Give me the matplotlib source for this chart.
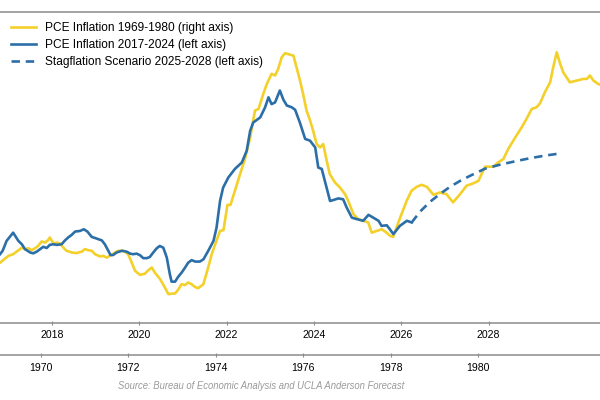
import matplotlib
matplotlib.use('Agg')
import matplotlib.pyplot as plt

plt.rcParams['font.family'] = ['Liberation Sans', 'DejaVu Sans']

# PCE inflation 2017-2024 (left axis, %), plotted against the top year axis
anni_recenti = [2016.81, 2016.87, 2016.96, 2017.11, 2017.23, 2017.31, 2017.38, 2017.50, 2017.57, 2017.65,
                2017.73, 2017.80, 2017.88, 2017.95, 2018.03, 2018.11, 2018.22, 2018.30, 2018.37, 2018.45,
                2018.53, 2018.64, 2018.73, 2018.81, 2018.91, 2018.99, 2019.06, 2019.14, 2019.21, 2019.29,
                2019.34, 2019.40, 2019.48, 2019.60, 2019.71, 2019.79, 2019.86, 2019.94, 2020.02, 2020.09,
                2020.17, 2020.24, 2020.32, 2020.40, 2020.47, 2020.55, 2020.63, 2020.70, 2020.74, 2020.82,
                2020.89, 2020.97, 2021.05, 2021.12, 2021.20, 2021.28, 2021.39, 2021.47, 2021.58, 2021.70,
                2021.77, 2021.85, 2021.92, 2022.04, 2022.19, 2022.35, 2022.46, 2022.54, 2022.61, 2022.77,
                2022.88, 2022.96, 2023.03, 2023.11, 2023.22, 2023.30, 2023.38, 2023.49, 2023.57, 2023.68,
                2023.80, 2023.91, 2024.03, 2024.10, 2024.18, 2024.25, 2024.37, 2024.44, 2024.56, 2024.67,
                2024.75, 2024.87, 2024.98, 2025.13, 2025.25, 2025.36, 2025.48, 2025.55, 2025.67, 2025.74,
                2025.82, 2025.97, 2026.13, 2026.24]
pce_recente = [1.43, 1.55, 1.90, 2.19, 1.90, 1.78, 1.61, 1.49, 1.46, 1.52,
               1.61, 1.69, 1.65, 1.76, 1.78, 1.76, 1.78, 1.92, 2.02, 2.11,
               2.23, 2.25, 2.31, 2.23, 2.04, 2.00, 1.96, 1.92, 1.78, 1.55,
               1.40, 1.40, 1.49, 1.55, 1.52, 1.45, 1.43, 1.45, 1.39, 1.29,
               1.29, 1.33, 1.49, 1.64, 1.72, 1.66, 1.31, 0.72, 0.46, 0.46,
               0.63, 0.78, 0.96, 1.13, 1.22, 1.17, 1.17, 1.25, 1.55, 1.90,
               2.37, 3.31, 3.78, 4.14, 4.44, 4.67, 5.08, 5.79, 6.08, 6.26,
               6.61, 6.97, 6.73, 6.79, 7.21, 6.89, 6.68, 6.62, 6.53, 6.07,
               5.50, 5.44, 5.20, 4.49, 4.44, 4.02, 3.31, 3.34, 3.40, 3.37,
               3.08, 2.72, 2.67, 2.61, 2.82, 2.72, 2.61, 2.43, 2.45, 2.31,
               2.14, 2.43, 2.61, 2.55]

# scenario di stagflazione 2025-2028 (left axis)
anni_scenario = [2026.24, 2026.43, 2026.66, 2026.89, 2027.12, 2027.35, 2027.58, 2027.92,
                 2028.26, 2028.61, 2028.95, 2029.29, 2029.56]
pce_scenario = [2.55, 2.93, 3.28, 3.56, 3.81, 4.02, 4.20, 4.45,
                4.59, 4.71, 4.82, 4.91, 4.97]

# PCE inflation 1969-1980 (right axis, %), plotted against the bottom year axis
anni_storici = [1969.07, 1969.14, 1969.26, 1969.37, 1969.49, 1969.57, 1969.64, 1969.72, 1969.79, 1969.87,
                1969.94, 1970.02, 1970.10, 1970.17, 1970.21, 1970.29, 1970.37, 1970.44, 1970.52, 1970.59,
                1970.71, 1970.82, 1970.94, 1971.01, 1971.09, 1971.17, 1971.24, 1971.36, 1971.43, 1971.51,
                1971.62, 1971.70, 1971.77, 1971.89, 1972.00, 1972.08, 1972.16, 1972.27, 1972.38, 1972.46,
                1972.54, 1972.61, 1972.73, 1972.84, 1972.92, 1973.00, 1973.07, 1973.15, 1973.22, 1973.30,
                1973.37, 1973.45, 1973.53, 1973.60, 1973.72, 1973.83, 1973.91, 1974.02, 1974.10, 1974.18,
                1974.27, 1974.34, 1974.44, 1974.56, 1974.67, 1974.79, 1974.90, 1974.98, 1975.09, 1975.17,
                1975.28, 1975.36, 1975.43, 1975.51, 1975.59, 1975.70, 1975.78, 1975.85, 1975.93, 1976.00,
                1976.08, 1976.16, 1976.23, 1976.31, 1976.39, 1976.46, 1976.54, 1976.61, 1976.73, 1976.84,
                1976.96, 1977.03, 1977.15, 1977.26, 1977.38, 1977.49, 1977.57, 1977.68, 1977.80, 1977.91,
                1977.99, 1978.06, 1978.22, 1978.37, 1978.48, 1978.60, 1978.71, 1978.83, 1978.98, 1979.13,
                1979.28, 1979.43, 1979.59, 1979.74, 1979.89, 1980.01, 1980.16, 1980.35, 1980.46, 1980.58,
                1980.69, 1980.85, 1981.00, 1981.11, 1981.23, 1981.34, 1981.42, 1981.53, 1981.65, 1981.72,
                1981.80, 1981.88, 1981.95, 1982.10, 1982.26, 1982.41, 1982.49, 1982.56, 1982.64, 1982.75,
                1982.86]
pce_storico = [4.13, 4.22, 4.37, 4.43, 4.57, 4.66, 4.61, 4.64, 4.57, 4.64,
               4.72, 4.88, 4.84, 4.93, 5.02, 4.81, 4.84, 4.81, 4.66, 4.55,
               4.49, 4.47, 4.52, 4.61, 4.57, 4.55, 4.43, 4.35, 4.37, 4.31,
               4.41, 4.49, 4.55, 4.55, 4.43, 4.13, 3.84, 3.70, 3.74, 3.86,
               3.96, 3.78, 3.55, 3.25, 3.02, 3.04, 3.04, 3.19, 3.37, 3.34,
               3.43, 3.37, 3.27, 3.23, 3.37, 3.96, 4.43, 4.90, 5.25, 5.28,
               6.17, 6.17, 6.67, 7.26, 7.79, 8.55, 9.50, 9.56, 10.09, 10.44,
               10.80, 10.74, 10.97, 11.38, 11.53, 11.48, 11.44, 11.03, 10.56, 10.09,
               9.50, 9.15, 8.79, 8.32, 8.20, 8.32, 7.73, 7.26, 6.96, 6.79,
               6.55, 6.32, 5.85, 5.67, 5.61, 5.55, 5.19, 5.25, 5.31, 5.19,
               5.08, 5.04, 5.72, 6.32, 6.67, 6.81, 6.88, 6.81, 6.53, 6.61,
               6.55, 6.26, 6.55, 6.85, 6.93, 7.02, 7.52, 7.52, 7.67, 7.79,
               8.14, 8.55, 8.91, 9.21, 9.56, 9.62, 9.76, 10.15, 10.50, 11.03,
               11.56, 11.15, 10.85, 10.50, 10.56, 10.62, 10.62, 10.74, 10.56, 10.44,
               10.38]

tick_recenti = [2018, 2020, 2022, 2024, 2026, 2028]
tick_storici = [1970, 1972, 1974, 1976, 1978, 1980]

BLU = '#2C6FA8'
GIALLO = '#F4D02A'
GRIGIO = '#8C8C8C'

fig = plt.figure(figsize=(6, 4), dpi=100)
rect = [0, 0.1925, 1, 0.7787]

# asse per la serie storica (asse destro + asse anni in basso)
ax2 = fig.add_axes(rect, label='storico')
ax2.plot(anni_storici, pce_storico, color=GIALLO, lw=1.9, label='PCE Inflation 1969-1980 (right axis)')
ax2.set_xlim(1969.069, 1982.79)
ax2.set_ylim(2, 13)
ax2.set_yticks([])
for s in ['top', 'left', 'right']:
    ax2.spines[s].set_visible(False)
ax2.spines['bottom'].set_position(('outward', 22.8))
ax2.spines['bottom'].set_color(GRIGIO)
ax2.spines['bottom'].set_linewidth(1.1)
ax2.set_xticks(tick_storici)
ax2.set_xticklabels([str(t) for t in tick_storici])
ax2.tick_params(axis='x', direction='inout', length=3.5, width=0.8, color=GRIGIO,
                labelsize=7.6, pad=4)
ax2.patch.set_visible(False)

# asse principale per la serie recente (asse sinistro + anni sopra)
ax = fig.add_axes(rect, label='recente')
ax.plot(anni_recenti, pce_recente, color=BLU, lw=1.9, label='PCE Inflation 2017-2024 (left axis)')
ax.plot(anni_scenario, pce_scenario, color=BLU, lw=1.9, ls=(0, (3.2, 2.2)),
        label='Stagflation Scenario 2025-2028 (left axis)')
ax.set_xlim(2016.809, 2030.554)
ax.set_ylim(-1, 10)
ax.set_yticks([])
ax.spines['left'].set_visible(False)
ax.spines['right'].set_visible(False)
for s in ['top', 'bottom']:
    ax.spines[s].set_color(GRIGIO)
    ax.spines[s].set_linewidth(1.1)
ax.set_xticks(tick_recenti)
ax.set_xticklabels([str(t) for t in tick_recenti])
ax.tick_params(axis='x', direction='inout', length=3.5, width=0.8, color=GRIGIO,
               labelsize=7.6, pad=3)
ax.patch.set_visible(False)

# legenda con tutte e tre le serie
h1, l1 = ax2.get_legend_handles_labels()
h2, l2 = ax.get_legend_handles_labels()
ax.legend(h1 + h2, l1 + l2, loc='upper left', bbox_to_anchor=(0.0, 1.0), frameon=False,
          fontsize=8.6, handlelength=2.1, handletextpad=0.75, labelspacing=0.42, borderaxespad=0.5)

fig.text(0.436, 0.035, 'Source: Bureau of Economic Analysis and UCLA Anderson Forecast',
         ha='center', va='center', fontsize=6.85, style='italic', color='#9A9A9A')

plt.savefig('out.png', dpi=100)
